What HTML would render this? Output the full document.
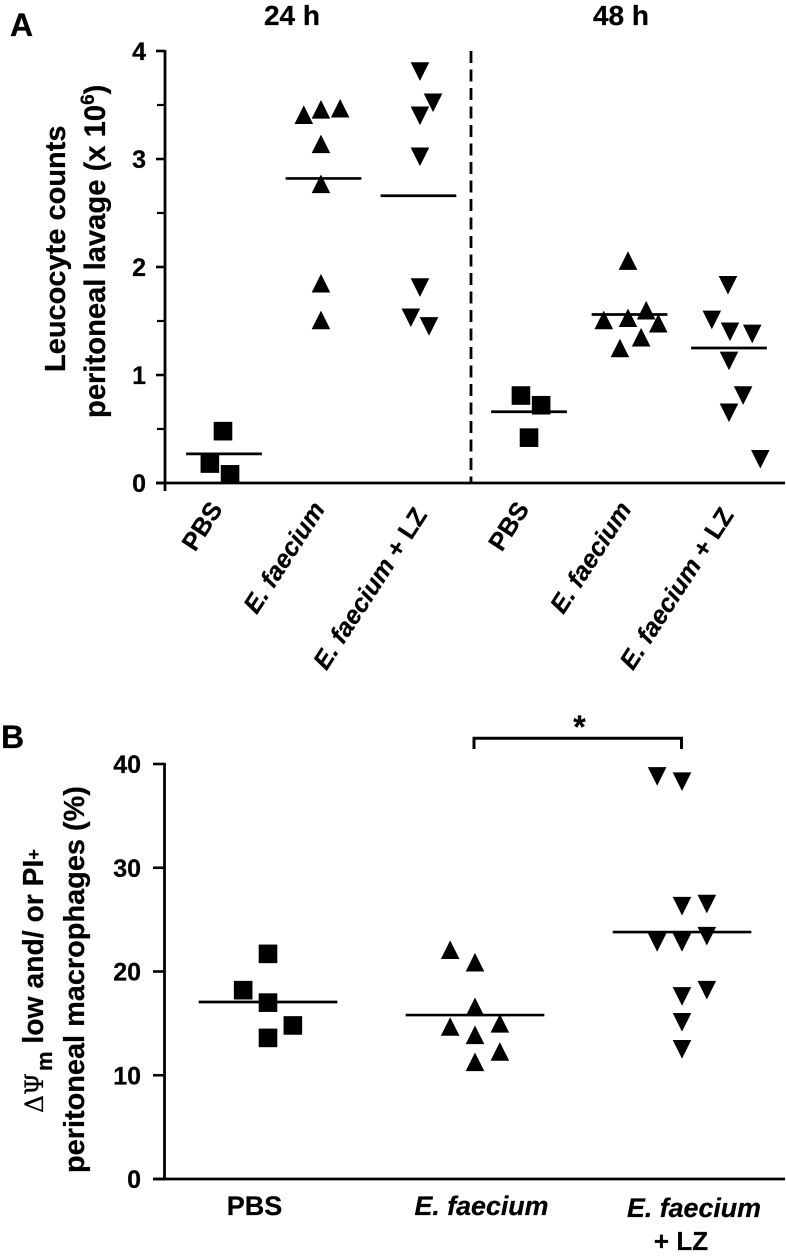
<!DOCTYPE html>
<html>
<head>
<meta charset="utf-8">
<title>Leucocyte counts and macrophage chart</title>
<style>
html,body{margin:0;padding:0;background:#fff;}
svg{display:block;}
text{font-family:"Liberation Sans",Arial,sans-serif;font-weight:bold;fill:#000;stroke:#000;stroke-width:0.25;}
</style>
</head>
<body>
<svg id="figure" xmlns="http://www.w3.org/2000/svg" width="786" height="1257" viewBox="0 0 786 1257">
  <text x="10" y="36" font-size="32">A</text>
  <text x="1" y="748" font-size="32">B</text>
  <text x="292" y="25" font-size="28" text-anchor="middle">24 h</text>
  <text x="621" y="25" font-size="28" text-anchor="middle">48 h</text>

  <text transform="translate(65,372) rotate(-90)" font-size="29">Leucocyte counts</text>
  <text transform="translate(105,418) rotate(-90)" font-size="29.2">peritoneal lavage (x 10<tspan font-size="19" dy="-11">6</tspan><tspan dy="11">)</tspan></text>

  <text transform="translate(43,1113) rotate(-90)" font-size="28.3"><tspan font-family="'DejaVu Serif','Liberation Serif',serif" font-weight="normal" font-size="25">ΔΨ</tspan><tspan font-size="22" dy="9" dx="2">m</tspan><tspan dy="-9"> low and/ or PI</tspan><tspan font-size="18" dy="-3">+</tspan></text>
  <text transform="translate(84,1173) rotate(-90)" font-size="28.9">peritoneal macrophages (%)</text>

  <g id="panel-a"></g>
  <g id="panel-b"></g>

  <path d="M474 749V738.3H681.5V749" fill="none" stroke="#000" stroke-width="3"/>
  <text x="579.5" y="738" font-size="32" text-anchor="middle">*</text>
</svg>

<script>
// Panel A data
const aCategories = ['PBS', 'E. faecium', 'E. faecium + LZ', 'PBS', 'E. faecium', 'E. faecium + LZ'];
const aMarkers = ['square', 'up', 'down', 'square', 'up', 'down'];
const aPbs24 = [0.48, 0.18, 0.08];
const aFaecium24 = [3.41, 3.46, 3.47, 3.14, 2.77, 1.85, 1.51];
const aLz24 = [3.81, 3.52, 3.40, 3.02, 1.81, 1.53, 1.45];
const aPbs48 = [0.81, 0.72, 0.42];
const aFaecium48 = [2.06, 1.60, 1.51, 1.53, 1.48, 1.35, 1.25];
const aLz48 = [1.83, 1.51, 1.40, 1.38, 1.13, 0.81, 0.65, 0.22];
const aSeries = [aPbs24, aFaecium24, aLz24, aPbs48, aFaecium48, aLz48];
const aJitter = [
  [-0.01, -0.14, 0.06],
  [-0.21, -0.04, 0.15, -0.04, -0.04, -0.04, -0.04],
  [-0.06, 0.07, -0.06, -0.06, -0.06, -0.15, 0.03],
  [-0.06, 0.14, 0.02],
  [0, 0.18, -0.24, 0, 0.30, 0.13, -0.08],
  [-0.01, -0.17, 0.01, 0.23, 0, 0.14, 0, 0.31]
];
const aMeans = [0.27, 2.82, 2.66, 0.66, 1.56, 1.25];
const aMeanShift = [0, -0.015, -0.075, 0.02, 0.015, 0];
const aTicks = [0, 1, 2, 3, 4];
const aMinorTicks = [0.5, 1.5, 2.5, 3.5];

// Panel B data
const bCategories = ['PBS', 'E. faecium', 'E. faecium + LZ'];
const bMarkers = ['square', 'up', 'down'];
const bPbs = [21.7, 18.2, 17.0, 14.8, 13.6];
const bFaecium = [22.1, 20.9, 16.6, 14.7, 15.0, 13.9, 12.3, 11.3];
const bLz = [38.8, 38.3, 26.3, 26.5, 22.8, 22.8, 23.4, 17.6, 18.2, 15.1, 12.5];
const bSeries = [bPbs, bFaecium, bLz];
const bJitter = [
  [0, -0.12, 0, 0.12, 0],
  [-0.12, 0, 0, -0.12, 0.12, 0, 0.12, 0],
  [-0.12, 0, 0, 0.12, -0.12, 0, 0.12, 0, 0.12, 0, 0]
];
const bMeans = [17.06, 15.8, 23.8];
const bTicks = [0, 10, 20, 30, 40];

const SVGNS = 'http://www.w3.org/2000/svg';

function yA(v) { return 483 - v * 108; }
function xA(c) { return 224 + c * 101; }
function xALabel(c) { return 223.5 + c * 102.2; }
function yB(v) { return 1179 - v * 10.375; }
function xB(c) { return 268 + c * 207; }

function line(parent, x1, y1, x2, y2, w) {
  const el = document.createElementNS(SVGNS, 'line');
  el.setAttribute('x1', x1);
  el.setAttribute('y1', y1);
  el.setAttribute('x2', x2);
  el.setAttribute('y2', y2);
  el.setAttribute('stroke', '#000');
  el.setAttribute('stroke-width', w);
  parent.appendChild(el);
  return el;
}

function label(parent, x, y, str, size, anchor) {
  const el = document.createElementNS(SVGNS, 'text');
  el.setAttribute('x', x);
  el.setAttribute('y', y);
  el.setAttribute('font-size', size);
  el.setAttribute('text-anchor', anchor);
  el.textContent = str;
  parent.appendChild(el);
  return el;
}

function catLabel(el, str) {
  // Italicises the species name inside a category label
  const m = str.match(/^(E\. faecium)(.*)$/);
  if (m) {
    el.textContent = '';
    const it = document.createElementNS(SVGNS, 'tspan');
    it.setAttribute('font-style', 'italic');
    it.textContent = m[1];
    el.appendChild(it);
    if (m[2]) {
      const rest = document.createElementNS(SVGNS, 'tspan');
      rest.textContent = m[2];
      el.appendChild(rest);
    }
  }
}

function marker(parent, kind, cx, cy) {
  let el;
  const s = 9.3;
  if (kind === 'square') {
    el = document.createElementNS(SVGNS, 'rect');
    el.setAttribute('x', cx - s);
    el.setAttribute('y', cy - s);
    el.setAttribute('width', s * 2);
    el.setAttribute('height', s * 2);
  } else {
    el = document.createElementNS(SVGNS, 'polygon');
    const d = kind === 'up' ? 1 : -1;
    el.setAttribute('points', (cx - s) + ',' + (cy + d * s) + ' ' + (cx + s) + ',' + (cy + d * s) + ' ' + cx + ',' + (cy - d * s));
  }
  el.setAttribute('fill', '#000');
  parent.appendChild(el);
  return el;
}

// ---- Panel A ----
const gA = document.getElementById('panel-a');

const aAxisY = line(gA, 165, 50, 165, 491, 2.8);


const aAxisX = line(gA, 156, 483, 785, 483, 2.8);



aTicks.forEach(function (t) {
  const tick = line(gA, 156, yA(t), 165, yA(t), 2.6);
  
  
  const lab = label(gA, 146, yA(t) + 9, String(t), 25, 'end');
  
  
});
aMinorTicks.forEach(function (t) {
  const tick = line(gA, 157, yA(t), 165, yA(t), 2.2);
  
  
});

const divider = line(gA, 471, 51, 471, 483, 2.8);


divider.setAttribute('stroke-dasharray', '12 6.5');

aSeries.forEach(function (vals, g) {
  vals.forEach(function (v, i) {
    const m = marker(gA, aMarkers[g], xA(g + aJitter[g][i]), yA(v));
    
    
  });
  const c = g + aMeanShift[g];
  const mean = line(gA, xA(c - 0.375), yA(aMeans[g]), xA(c + 0.375), yA(aMeans[g]), 2.7);
  
  
});

aCategories.forEach(function (cat, g) {
  const ex = xALabel(g);
  const ey = cat === 'E. faecium + LZ' ? 515 : 509;
  const el = label(gA, 0, 0, cat, 25.3, 'end');
  el.setAttribute('transform', 'translate(' + ex + ',' + ey + ') rotate(-57)');
  catLabel(el, cat);
  
  
});

// ---- Panel B ----
const gB = document.getElementById('panel-b');

const bAxisY = line(gB, 164.5, 763, 164.5, 1180, 2.8);


const bAxisX = line(gB, 153, 1179, 785, 1179, 2.8);



bTicks.forEach(function (t) {
  const tick = line(gB, 153, yB(t), 165, yB(t), 2.6);
  
  
  const lab = label(gB, 141, yB(t) + 9, String(t), 25, 'end');
  
  
});

bSeries.forEach(function (vals, g) {
  vals.forEach(function (v, i) {
    const m = marker(gB, bMarkers[g], xB(g + bJitter[g][i]), yB(v));
    
    
  });
  const mean = line(gB, xB(g - 0.335), yB(bMeans[g]), xB(g + 0.335), yB(bMeans[g]), 2.7);
  
  
});

const pbsLabel = label(gB, 254.5, 1215, bCategories[0], 27, 'middle');



const faeciumLabel = label(gB, 481.5, 1215, bCategories[1], 26.8, 'middle');
catLabel(faeciumLabel, bCategories[1]);



const lzParts = bCategories[2].split(' + ');
const lzLabel1 = label(gB, 694, 1217, lzParts[0], 26.8, 'middle');
catLabel(lzLabel1, lzParts[0]);


const lzLabel2 = label(gB, 681, 1250, '+ ' + lzParts[1], 26, 'middle');


</script>
</body>
</html>
